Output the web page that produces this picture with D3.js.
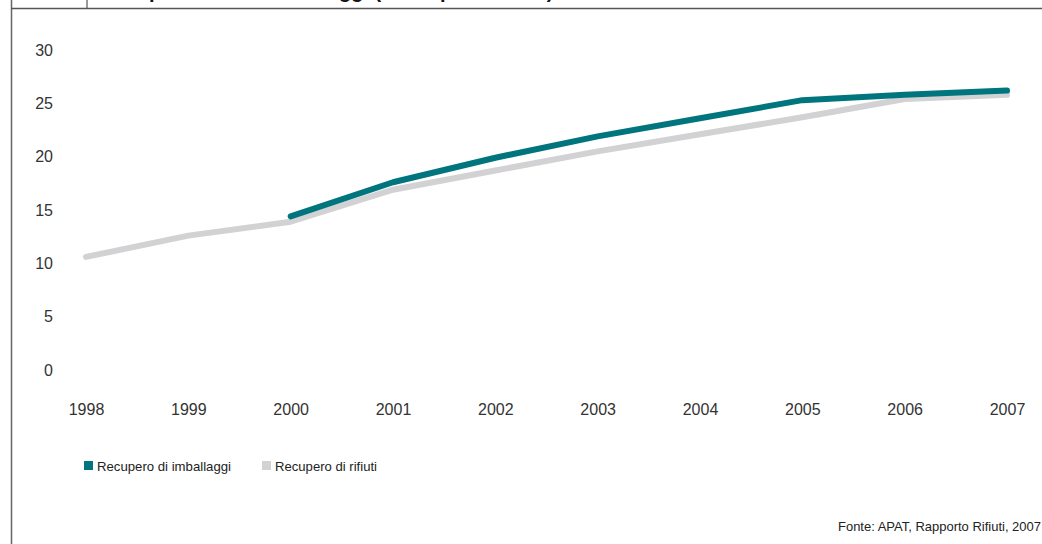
<!DOCTYPE html>
<html>
<head>
<meta charset="utf-8">
<script src="https://cdn.jsdelivr.net/npm/d3@7"></script>
<style>
  body { margin: 0; background: #fff; }
  svg { display: block; }
</style>
</head>
<body>
<div id="chart"></div>
<script>
// dati (valori percentuali)
const anni = ["1998", "1999", "2000", "2001", "2002", "2003", "2004", "2005", "2006", "2007"];
const imballaggi = [null, null, 14.4, 17.6, 19.9, 21.9, 23.6, 25.3, 25.8, 26.2];
const rifiuti = [10.6, 12.6, 13.9, 16.9, 18.7, 20.5, 22.1, 23.7, 25.4, 25.8];
const yTicks = [0, 5, 10, 15, 20, 25, 30];
const serie = [
  {nome: "Recupero di rifiuti", valori: rifiuti, colore: "#d2d2d4"},
  {nome: "Recupero di imballaggi", valori: imballaggi, colore: "#00757e"}
];

const width = 1042, height = 544;

const svg = d3.select("#chart").append("svg")
  .attr("width", width)
  .attr("height", height);

// cornice
svg.append("line").attr("x1", 11.5).attr("x2", 11.5).attr("y1", 0).attr("y2", height)
  .attr("stroke", "#666").attr("stroke-width", 1.5);
svg.append("line").attr("x1", 11).attr("x2", width).attr("y1", 8.5).attr("y2", 8.5)
  .attr("stroke", "#555").attr("stroke-width", 1.5);
svg.append("line").attr("x1", 87).attr("x2", 87).attr("y1", 0).attr("y2", 8.5)
  .attr("stroke", "#555").attr("stroke-width", 1.2);

// titolo (tagliato in alto)
svg.append("text")
  .attr("x", 100).attr("y", -2)
  .attr("font-family", "Liberation Sans, Arial, sans-serif")
  .attr("font-weight", "bold")
  .attr("font-size", 20)
  .attr("fill", "#111")
  .text("Recupero rifiuti e imballaggi (valori percentuali)");

// scale
const x = d3.scalePoint().domain(anni).range([86, 1007]);
const y = d3.scaleLinear().domain([0, 30]).range([370, 50]);

// asse y
const gy = svg.append("g")
  .attr("transform", "translate(53,0)")
  .call(d3.axisLeft(y).tickValues(yTicks).tickSize(0).tickPadding(0));
gy.select(".domain").remove();
gy.selectAll("text")
  .attr("font-family", "Liberation Sans, Arial, sans-serif")
  .attr("font-size", 16)
  .attr("fill", "#333");

// asse x
const gx = svg.append("g")
  .attr("transform", "translate(0,404)")
  .call(d3.axisBottom(x).tickSize(0).tickPadding(0));
gx.select(".domain").remove();
gx.selectAll("text")
  .attr("font-family", "Liberation Sans, Arial, sans-serif")
  .attr("font-size", 16)
  .attr("fill", "#333");

// linee
const line = d3.line()
  .defined(d => d.v != null)
  .x(d => x(d.anno))
  .y(d => y(d.v));

svg.selectAll(".serie")
  .data(serie)
  .enter().append("path")
  .attr("class", "serie")
  .attr("fill", "none")
  .attr("stroke", d => d.colore)
  .attr("stroke-width", 6)
  .attr("stroke-linecap", "round")
  .attr("stroke-linejoin", "round")
  .attr("d", d => line(anni.map((a, i) => ({anno: a, v: d.valori[i]}))));

// legenda
const legenda = [
  {nome: "Recupero di imballaggi", colore: "#00757e", x: 84, w: 134},
  {nome: "Recupero di rifiuti", colore: "#d2d2d4", x: 262, w: 102}
];
const lg = svg.selectAll(".leg")
  .data(legenda)
  .enter().append("g")
  .attr("class", "leg")
  .attr("transform", d => `translate(${d.x},461)`);
lg.append("rect").attr("width", 9).attr("height", 9).attr("fill", d => d.colore);
lg.append("text")
  .attr("x", 13).attr("y", 9.5)
  .attr("font-family", "Liberation Sans, Arial, sans-serif")
  .attr("font-size", 13.5)
  .attr("textLength", d => d.w)
  .attr("lengthAdjust", "spacingAndGlyphs")
  .attr("fill", "#222")
  .text(d => d.nome);

// fonte
svg.append("text")
  .attr("x", 838).attr("y", 531)
  .attr("font-family", "Liberation Sans, Arial, sans-serif")
  .attr("font-size", 13.5)
  .attr("textLength", 203)
  .attr("lengthAdjust", "spacingAndGlyphs")
  .attr("fill", "#222")
  .text("Fonte: APAT, Rapporto Rifiuti, 2007");
</script>
</body>
</html>
